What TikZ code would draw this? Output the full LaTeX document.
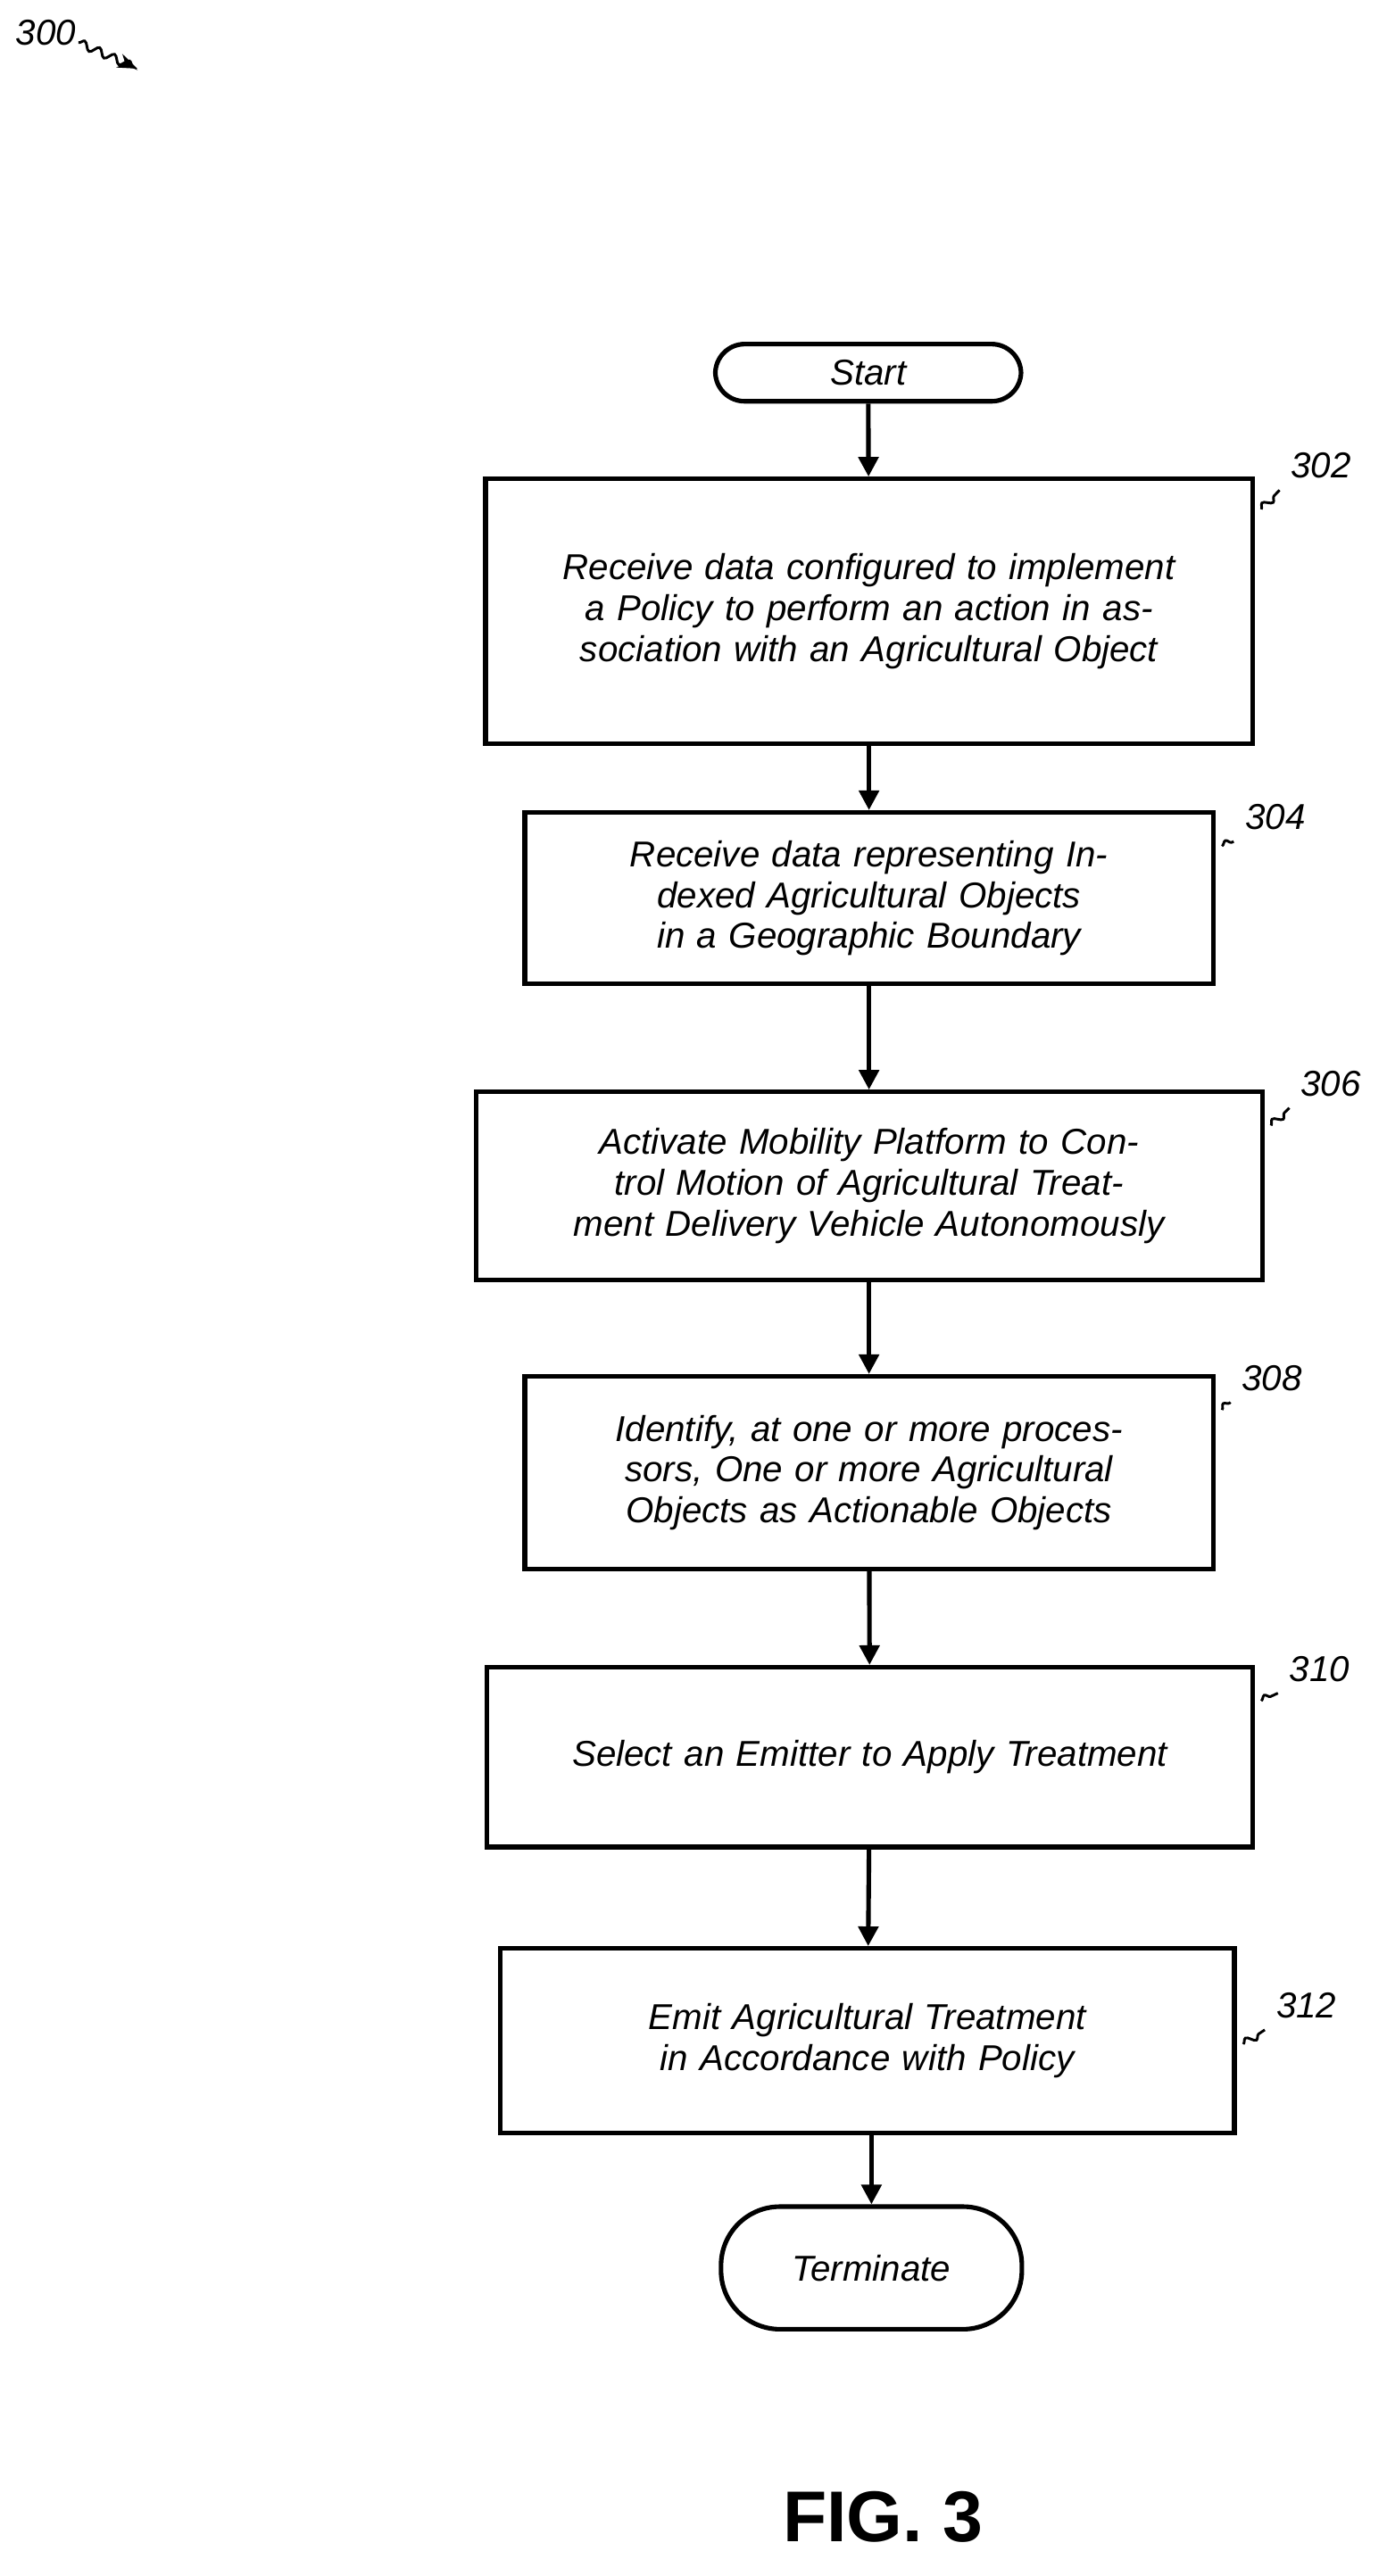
\documentclass[tikz,border=0pt]{standalone}
\usepackage{fontspec}
\setmainfont{Liberation Sans}
\usetikzlibrary{arrows.meta,decorations.pathmorphing}
\begin{document}
\begin{tikzpicture}[x=0.5pt,y=-0.5pt,
  box/.style={draw,line width=1.4pt,align=center,font=\itshape\fontsize{11}{12.5}\selectfont,inner sep=0pt},
  term/.style={box,rounded corners=9pt},
  arr/.style={-{Triangle[length=6pt,width=6pt]},line width=1.4pt},
  lab/.style={font=\itshape\fontsize{11}{12}\selectfont},
  sq/.style={line width=0.8pt,decorate,decoration={snake,amplitude=1.2pt,segment length=5pt}}]
\useasboundingbox (0,0) rectangle (848,1576);
\node[lab] (n300) at (28,20) {300};
\coordinate (a300) at (84,42);
\draw[sq,-{Stealth[length=6pt]}] (48,26) -- (a300);

\node[term,minimum width=93.5pt,minimum height=17.5pt] (start) at (531,228) {Start};
\node[box,minimum width=234.5pt,minimum height=81pt,text width=215pt] (b302) at (531.5,374) {Receive data configured to implement a Policy to perform an action in association with an Agricultural Object};
\node[box,minimum width=210.5pt,minimum height=52.5pt,text width=190pt] (b304) at (531.5,549.5) {Receive data representing Indexed Agricultural Objects in a Geographic Boundary};
\node[box,minimum width=240.5pt,minimum height=57.5pt,text width=235pt] (b306) at (531.5,725.5) {Activate Mobility Platform to Control Motion of Agricultural Treatment Delivery Vehicle Autonomously};
\node[box,minimum width=210.5pt,minimum height=59pt,text width=205pt] (b308) at (531.5,901) {Identify, at one or more processors, One or more Agricultural Objects as Actionable Objects};
\node[box,minimum width=234pt,minimum height=55pt,text width=215pt] (b310) at (532,1075) {Select an Emitter to Apply Treatment};
\node[box,minimum width=224.5pt,minimum height=56.5pt,text width=215pt] (b312) at (530.5,1248.5) {Emit Agricultural Treatment in Accordance with Policy};
\node[term,minimum width=92pt,minimum height=37.5pt,rounded corners=18pt] (end) at (533,1387.5) {Terminate};

\draw[arr] (start) -- (b302);
\draw[arr] (b302) -- (b304);
\draw[arr] (b304) -- (b306);
\draw[arr] (b306) -- (b308);
\draw[arr] (b308) -- (b310);
\draw[arr] (b310) -- (b312);
\draw[arr] (b312.south -| end) -- (end);

\node[lab] (l302) at (808,285) {302};
\draw[sq] (b302.north east) ++(4,20) -- (l302.south west);
\node[lab] (l304) at (780,500) {304};
\draw[sq] (b304.north east) ++(4,22) -- (l304.south west);
\node[lab] (l306) at (814,663) {306};
\draw[sq] (b306.north east) ++(4,22) -- (l306.south west);
\node[lab] (l308) at (778,843) {308};
\draw[sq] (b308.north east) ++(4,22) -- (l308.south west);
\node[lab] (l310) at (807,1021) {310};
\draw[sq] (b310.north east) ++(4,22) -- (l310.south west);
\node[lab] (l312) at (799,1227) {312};
\draw[sq] (b312.north east) ++(4,60) -- (l312.south west);

\node[font=\bfseries\fontsize{22}{24}\selectfont] (fig) at (540,1540) {FIG. 3};
\end{tikzpicture}
\end{document}
